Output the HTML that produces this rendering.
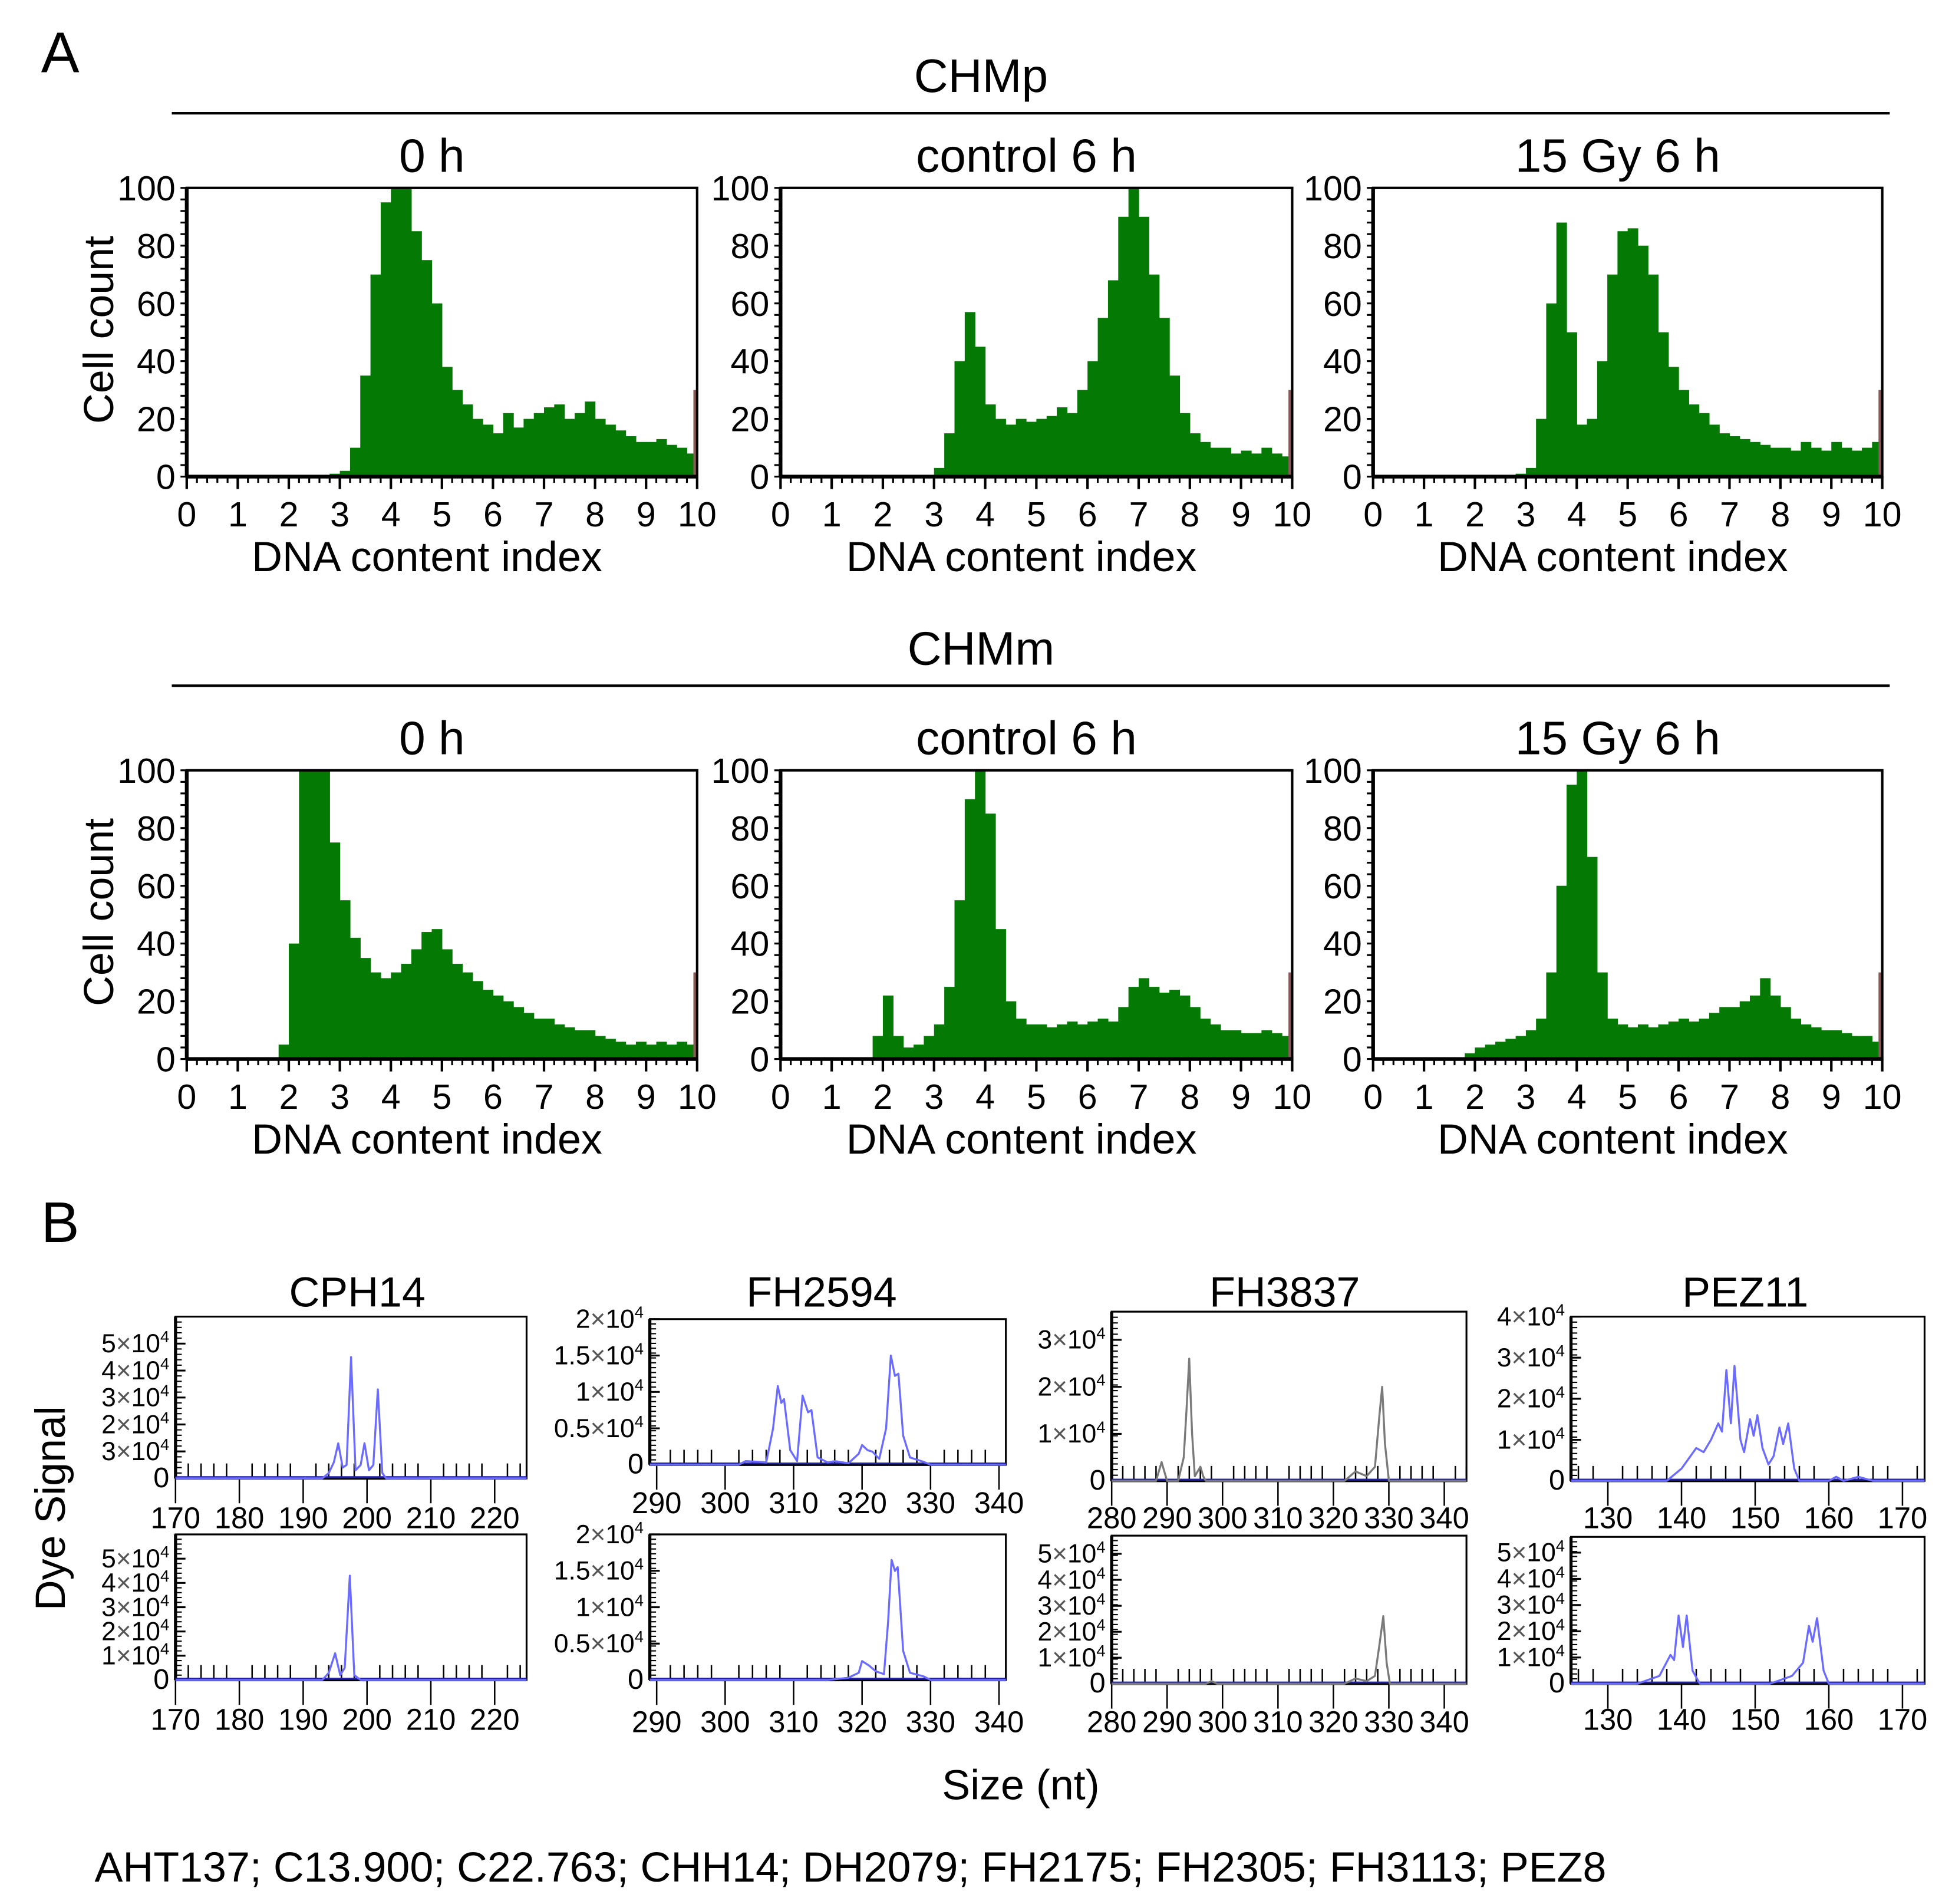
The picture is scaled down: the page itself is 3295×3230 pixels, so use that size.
<!DOCTYPE html>
<html><head><meta charset="utf-8"><style>
html,body{margin:0;padding:0;background:#fff}
svg{display:block}
text{font-family:"Liberation Sans",Arial,sans-serif;fill:#000}
</style></head><body>
<svg id="fig" xmlns="http://www.w3.org/2000/svg" width="3295" height="3230" viewBox="0 0 1560 1530" preserveAspectRatio="none">
<text x="33" y="58" font-size="46">A</text>
<text x="788" y="74" font-size="38" text-anchor="middle">CHMp</text>
<line x1="138" y1="91" x2="1518" y2="91" stroke="#000" stroke-width="2"/>
<text x="788" y="534" font-size="38" text-anchor="middle">CHMm</text>
<line x1="138" y1="551" x2="1518" y2="551" stroke="#000" stroke-width="2"/>
<text x="33" y="998" font-size="46">B</text>
<text transform="translate(52,1212) rotate(-90)" font-size="34" text-anchor="middle">Dye Signal</text>
<text x="820" y="1446" font-size="34" text-anchor="middle">Size (nt)</text>
<text x="76" y="1512" font-size="34">AHT137; C13.900; C22.763; CHH14; DH2079; FH2175; FH2305; FH3113; PEZ8</text>
<g id="charts"></g>
</svg>
<script>
// ---- Panel A histogram data (bin width 0.2, starting at 0) ----
const histBinWidth = 0.2;
const chmp0h = [0,0,0,0,0,0,0,0,0,0,0,0,0,0,1,2,10,35,70,95,100,100,85,75,60,38,30,25,20,18,15,22,17,20,22,24,25,20,22,26,20,18,16,14,12,12,13,11,10,8];
const chmpCtrl = [0,0,0,0,0,0,0,0,0,0,0,0,0,0,0,3,15,40,57,45,25,20,18,20,19,20,21,24,22,30,40,55,68,90,100,90,70,55,35,22,15,12,10,10,8,9,8,10,8,7];
const chmpGy = [0,0,0,0,0,0,0,0,0,0,0,0,0,0,1,3,20,60,88,50,18,20,40,70,85,86,80,70,50,38,30,25,22,18,15,14,13,12,11,10,10,9,12,10,9,12,10,9,10,12];
const chmm0h = [0,0,0,0,0,0,0,0,0,5,40,100,100,100,75,55,42,35,30,28,30,33,38,44,45,38,33,30,27,24,22,20,18,16,14,14,12,11,10,10,8,7,6,5,6,5,6,5,6,5];
const chmmCtrl = [0,0,0,0,0,0,0,0,0,8,22,8,4,5,8,12,25,55,90,100,85,45,20,14,12,12,11,12,13,12,13,14,13,18,25,28,25,23,24,22,18,14,12,10,10,9,9,10,9,8];
const chmmGy = [0,0,0,0,0,0,0,0,0,2,4,5,6,7,8,10,14,30,60,95,100,70,30,14,12,11,12,11,12,13,14,13,14,16,18,18,20,22,28,22,18,14,12,11,10,10,9,8,8,6];
const histTicks = [0,1,2,3,4,5,6,7,8,9,10];
const countTicks = [0,20,40,60,80,100];
const histTitles = ["0 h","control 6 h","15 Gy 6 h"];

// ---- Panel B electropherogram data: [size nt, signal] ----
const cph14Top = [[170,0],[193,0],[194,0.2e4],[194.8,0.6e4],[195.5,1.3e4],[196.2,0.4e4],[196.8,0.5e4],[197.5,4.5e4],[198.2,0.3e4],[199,0.5e4],[199.6,1.3e4],[200.3,0.3e4],[201,0.5e4],[201.7,3.3e4],[202.4,0.2e4],[203,0],[225,0]];
const cph14Bot = [[170,0],[193,0],[194,0.3e4],[195,1.1e4],[195.8,0.2e4],[196.5,0.5e4],[197.3,4.3e4],[198,0.2e4],[199,0],[225,0]];
const fh2594Top = [[289,0],[302,0],[303,500],[305,400],[306,300],[307,5000],[307.7,10800],[308.2,8500],[308.6,9000],[309.5,2000],[310.5,500],[311.3,9500],[312.1,7200],[312.6,7500],[313.5,1000],[315,300],[316,500],[318,200],[319.5,1500],[320,2700],[320.8,2000],[321.5,1800],[322.5,800],[323.5,5000],[324.2,15000],[324.8,12200],[325.3,12500],[326,4000],[327,1000],[329,400],[330,0],[341,0]];
const fh2594Bot = [[289,0],[315,0],[318,300],[319.5,1000],[320,2600],[321,2000],[322,1200],[323.2,800],[323.8,8000],[324.3,16500],[324.8,15000],[325.2,15500],[326,4000],[327,1000],[329,500],[330,0],[341,0]];
const fh3837Top = [[280,0],[288,0],[289,0.4e4],[290,0],[292,0],[293,0.5e4],[293.5,1.5e4],[294,2.6e4],[294.5,1e4],[295,0.1e4],[296,0.3e4],[296.5,0.1e4],[297,0],[322,0],[324,0.2e4],[326,0.1e4],[327.5,0.3e4],[328.3,1.4e4],[328.8,2e4],[329.3,0.8e4],[330,0],[344,0]];
const fh3837Bot = [[280,0],[297,0],[298,0.1e4],[299,0],[322,0],[324,0.2e4],[326,0.1e4],[327.5,0.3e4],[328.3,1.5e4],[329,2.6e4],[329.6,0.8e4],[330.2,0],[344,0]];
const pez11Top = [[125,0],[138,0],[140,0.3e4],[142,0.8e4],[143,0.7e4],[144,1e4],[145,1.4e4],[145.5,1.2e4],[146.1,2.7e4],[146.7,1.4e4],[147.2,2.8e4],[148,1e4],[148.5,0.7e4],[149.3,1.5e4],[149.8,1.1e4],[150.3,1.6e4],[151,0.8e4],[151.8,0.4e4],[152.5,0.6e4],[153.3,1.3e4],[153.8,0.9e4],[154.5,1.4e4],[155.3,0.3e4],[156,0],[160,0],[161,0.1e4],[162,0],[164,0.1e4],[166,0],[173,0]];
const pez11Bot = [[125,0],[134,0],[137,0.3e4],[138.5,1.1e4],[139,0.9e4],[139.6,2.6e4],[140.2,1.4e4],[140.7,2.6e4],[141.5,0.5e4],[142.5,0],[152,0],[155,0.3e4],[156.5,0.8e4],[157.3,2.2e4],[157.8,1.6e4],[158.4,2.5e4],[159.3,0.5e4],[160,0],[173,0]];
const cph14Ticks = [170,180,190,200,210,220];
const fh2594Ticks = [290,300,310,320,330,340];
const fh3837Ticks = [280,290,300,310,320,330,340];
const pez11Ticks = [130,140,150,160,170];
const cph14TopYLabels = [["0",0],["3",1e4],["2",2e4],["3",3e4],["4",4e4],["5",5e4]];
const cph14BotYLabels = [["0",0],["1",1e4],["2",2e4],["3",3e4],["4",4e4],["5",5e4]];
const fh2594YLabels = [["0",0],["0.5",5000],["1",1e4],["1.5",15000],["2",2e4]];
const fh3837TopYLabels = [["0",0],["1",1e4],["2",2e4],["3",3e4]];
const fh3837BotYLabels = [["0",0],["1",1e4],["2",2e4],["3",3e4],["4",4e4],["5",5e4]];
const pez11TopYLabels = [["0",0],["1",1e4],["2",2e4],["3",3e4],["4",4e4]];
const pez11BotYLabels = [["0",0],["1",1e4],["2",2e4],["3",3e4],["4",4e4],["5",5e4]];
const markerNames = ["CPH14","FH2594","FH3837","PEZ11"];

const NS = "http://www.w3.org/2000/svg";
const root = document.getElementById('charts');
function mk(tag, attrs, parent){ const e=document.createElementNS(NS,tag); for(const k in attrs) e.setAttribute(k,attrs[k]); (parent||root).appendChild(e); return e; }

function histogram(name, data, x0, x1, yTop, yBase, title, showYTitle){
  const g = mk('g',{});
  
  
  const xs = v => x0 + (v/10)*(x1-x0);
  const ys = v => yBase - (v/100)*(yBase-yTop);
  const t = mk('text',{x:(x0+x1)/2-8, y:yTop-13, 'font-size':38, 'text-anchor':'middle'}, g); t.textContent=title;
  
  
  data.forEach((v,i)=>{
    if(v<=0) return;
    const r = mk('rect',{x:xs(i*histBinWidth), y:ys(v), width:xs((i+1)*histBinWidth)-xs(i*histBinWidth)+0.3, height:yBase-ys(v), fill:'#047a04'}, g);
    
    
  });
  mk('rect',{x:x1-3, y:ys(30), width:3, height:yBase-ys(30), fill:'#8a5a5a'}, g);
  const f = mk('rect',{x:x0, y:yTop, width:x1-x0, height:yBase-yTop, fill:'none', stroke:'#000', 'stroke-width':2}, g);
  
  
  mk('line',{x1:x0,y1:yBase,x2:x1,y2:yBase,stroke:'#000','stroke-width':3},g);
  mk('line',{x1:x0,y1:yTop,x2:x0,y2:yBase,stroke:'#000','stroke-width':3},g);
  for(let v=0; v<=10.001; v+=0.2){ const big=Math.abs(v-Math.round(v))<0.01; mk('line',{x1:xs(v),y1:yBase,x2:xs(v),y2:yBase+(big?10:5),stroke:'#000','stroke-width':big?2:1.5},g); }
  for(let v=0; v<=100; v+=4){ mk('line',{x1:x0,y1:ys(v),x2:x0-5,y2:ys(v),stroke:'#000','stroke-width':1.5},g); }
  histTicks.forEach(v=>{ const l=mk('text',{x:xs(v), y:yBase+40, 'font-size':28, 'text-anchor':'middle'}, g); l.textContent=v;
    
     });
  countTicks.forEach(v=>{ const l=mk('text',{x:x0-9, y:ys(v)+10, 'font-size':28, 'text-anchor':'end'}, g); l.textContent=v;
    
     });
  const xt = mk('text',{x:(x0+x1)/2-12, y:yBase+76, 'font-size':34, 'text-anchor':'middle'}, g); xt.textContent='DNA content index';
  
  
  if(showYTitle){ const yt=mk('text',{transform:`translate(91,${(yTop+yBase)/2-2}) rotate(-90)`, 'font-size':34, 'text-anchor':'middle'}, g); yt.textContent='Cell count';
    
     }
}
const colX = [[150,560],[627,1038],[1103,1512]];
histogram('hist-chmp-0h', chmp0h, colX[0][0], colX[0][1], 151, 383, histTitles[0], true);
histogram('hist-chmp-control-6h', chmpCtrl, colX[1][0], colX[1][1], 151, 383, histTitles[1], false);
histogram('hist-chmp-15gy-6h', chmpGy, colX[2][0], colX[2][1], 151, 383, histTitles[2], false);
histogram('hist-chmm-0h', chmm0h, colX[0][0], colX[0][1], 619, 851, histTitles[0], true);
histogram('hist-chmm-control-6h', chmmCtrl, colX[1][0], colX[1][1], 619, 851, histTitles[1], false);
histogram('hist-chmm-15gy-6h', chmmGy, colX[2][0], colX[2][1], 619, 851, histTitles[2], false);

function trace(name, pts, dom, px, yTop, yBase, ymax, ticks, ylabels, color, labelY){
  const g = mk('g',{});
  
  
  const xs = v => px[0] + (v-dom[0])/(dom[1]-dom[0])*(px[1]-px[0]);
  const ys = v => yBase - v/ymax*(yBase-yTop);
  const f = mk('rect',{x:px[0], y:yTop, width:px[1]-px[0], height:yBase-yTop, fill:'none', stroke:'#000', 'stroke-width':1.5}, g);
  
  
  mk('line',{x1:px[0],y1:yBase,x2:px[1],y2:yBase,stroke:'#000','stroke-width':2},g);
  mk('line',{x1:px[0],y1:yTop,x2:px[0],y2:yBase,stroke:'#000','stroke-width':2.5},g);
  for(let v=Math.ceil(dom[0]/2)*2; v<=dom[1]; v+=2){ const big=v%10===0; mk('line',{x1:xs(v),y1:big?yBase+20:yBase-12,x2:xs(v),y2:yBase,stroke:'#000','stroke-width':1.2},g); }
  const step = ymax/30;
  for(let v=0; v<=ymax; v+=step){ mk('line',{x1:px[0],y1:ys(v),x2:px[0]+5,y2:ys(v),stroke:'#000','stroke-width':1},g); }
  ticks.forEach(v=>{ const l=mk('text',{x:xs(v), y:labelY, 'font-size':24, 'text-anchor':'middle'}, g); l.textContent=v;
    
     });
  ylabels.forEach(([lab,v])=>{
    const l=mk('text',{x:px[0]-5, y:ys(v)+7, 'font-size':21, 'text-anchor':'end'}, g);
    
    
    if(lab==='0'){ l.textContent='0'; l.setAttribute('font-size','23'); }
    else { l.innerHTML = lab+'<tspan fill="#555">×</tspan>10<tspan dy="-8" font-size="13">4</tspan>'; }
    mk('line',{x1:px[0],y1:ys(v),x2:px[0]+8,y2:ys(v),stroke:'#000','stroke-width':1.5},g);
  });
  mk('line',{x1:px[0],y1:yBase-1,x2:px[1],y2:yBase-1,stroke:'#2020a0','stroke-width':1.5},g);
  const p = mk('polyline',{points:pts.map(d=>xs(d[0]).toFixed(1)+','+ys(d[1]).toFixed(1)).join(' '), fill:'none', stroke:color, 'stroke-width':1.6, 'stroke-linejoin':'round'}, g);
  
  
}
const blue='#6b6bff', gray='#7a7a7a';
trace('cph14-top', cph14Top, [170,225], [141,423], 1058, 1188, 6e4, cph14Ticks, cph14TopYLabels, blue, 1228);
trace('cph14-bottom', cph14Bot, [170,225], [141,423], 1233, 1350, 6e4, cph14Ticks, cph14BotYLabels, blue, 1390);
trace('fh2594-top', fh2594Top, [289,341], [522,808], 1060, 1177, 2e4, fh2594Ticks, fh2594YLabels, blue, 1216);
trace('fh2594-bottom', fh2594Bot, [289,341], [522,808], 1233, 1350, 2e4, fh2594Ticks, fh2594YLabels, blue, 1392);
trace('fh3837-top', fh3837Top, [280,344], [893,1178], 1054, 1190, 3.6e4, fh3837Ticks, fh3837TopYLabels, gray, 1228);
trace('fh3837-bottom', fh3837Bot, [280,344], [893,1178], 1234, 1353, 5.7e4, fh3837Ticks, fh3837BotYLabels, gray, 1392);
trace('pez11-top', pez11Top, [125,173], [1262,1546], 1058, 1190, 4e4, pez11Ticks, pez11TopYLabels, blue, 1228);
trace('pez11-bottom', pez11Bot, [125,173], [1262,1546], 1235, 1353, 5.6e4, pez11Ticks, pez11BotYLabels, blue, 1390);
const markerX = [287, 660, 1032, 1402];
markerNames.forEach((n,i)=>{ const t=mk('text',{x:markerX[i], y:1050, 'font-size':34, 'text-anchor':'middle'}); t.textContent=n;
  
   });
</script>
</body></html>
